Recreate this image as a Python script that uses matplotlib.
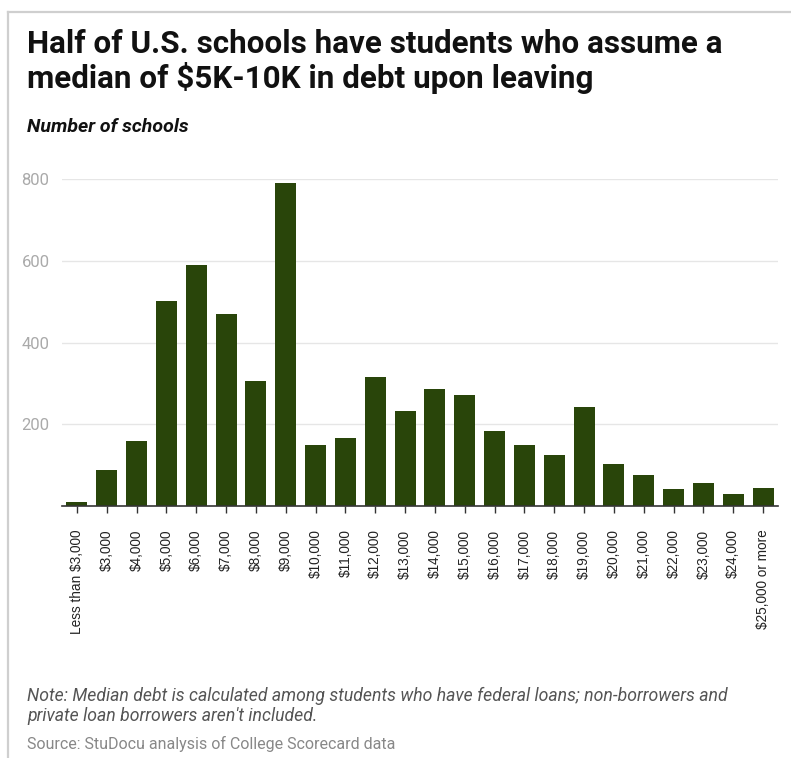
import matplotlib
matplotlib.use("Agg")
import matplotlib.pyplot as plt
from matplotlib.lines import Line2D

categories = ["Less than $3,000", "$3,000", "$4,000", "$5,000", "$6,000", "$7,000",
              "$8,000", "$9,000", "$10,000", "$11,000", "$12,000", "$13,000",
              "$14,000", "$15,000", "$16,000", "$17,000", "$18,000", "$19,000",
              "$20,000", "$21,000", "$22,000", "$23,000", "$24,000", "$25,000 or more"]
schools = [11, 88, 158, 503, 591, 469, 305, 792, 150, 167, 315, 233,
           287, 273, 184, 149, 126, 242, 104, 76, 42, 56, 29, 45]
y_ticks = [200, 400, 600, 800]

W, H = 791, 758
fig = plt.figure(figsize=(W / 100, H / 100), dpi=100)

# light frame along the top and left edges
fig.add_artist(Line2D([8 / W, 8 / W], [0, 1 - 12 / H], transform=fig.transFigure,
                      color="#cfcfcf", lw=1.6))
fig.add_artist(Line2D([8 / W, 1], [1 - 12 / H, 1 - 12 / H], transform=fig.transFigure,
                      color="#cfcfcf", lw=1.6))

ax = fig.add_axes([62 / W, 1 - 506 / H, (778 - 62) / W, (506 - 179.3) / H])
x = list(range(len(categories)))
ax.bar(x, schools, width=0.70, color="#29450a", zorder=3)

ax.set_xlim(-0.5, len(categories) - 0.5)
ax.set_ylim(0, 800)
ax.set_yticks(y_ticks)
ax.set_yticklabels([str(v) for v in y_ticks], fontfamily="Roboto", fontsize=12,
                   color="#aaaaaa")
ax.yaxis.grid(True, color="#e6e6e6", lw=1, zorder=0)
ax.tick_params(axis="y", length=0, pad=9)

ax.set_xticks(x)
ax.set_xticklabels(categories, rotation=90, fontfamily="Liberation Sans",
                   fontsize=9.8, color="#222222", va="top", ha="center")
ax.tick_params(axis="x", length=5, width=1, color="#333333", pad=12)

for s in ["top", "right", "left"]:
    ax.spines[s].set_visible(False)
ax.spines["bottom"].set_color("#333333")
ax.spines["bottom"].set_linewidth(1.2)
ax.spines["bottom"].set_zorder(4)

# headline, subtitle and footer
fig.text(27 / W, 1 - 29 / H, "Half of U.S. schools have students who assume a\n"
         "median of $5K-10K in debt upon leaving",
         fontfamily="Roboto", fontweight="bold", fontsize=22.6, color="#111111",
         va="top", ha="left", linespacing=1.1)
fig.text(27 / W, 1 - 118 / H, "Number of schools", fontfamily="Roboto",
         fontweight="bold", fontstyle="italic", fontsize=14, color="#111111",
         va="top", ha="left")
fig.text(27 / W, 1 - 687 / H,
         "Note: Median debt is calculated among students who have federal loans; "
         "non-borrowers and\nprivate loan borrowers aren't included.",
         fontfamily="Roboto", fontstyle="italic", fontsize=12.7, color="#555555",
         va="top", ha="left", linespacing=1.15)
fig.text(27 / W, 1 - 736 / H, "Source: StuDocu analysis of College Scorecard data",
         fontfamily="Roboto", fontsize=11.5, color="#888888", va="top", ha="left")

fig.savefig("out.png", dpi=100, facecolor="white")
